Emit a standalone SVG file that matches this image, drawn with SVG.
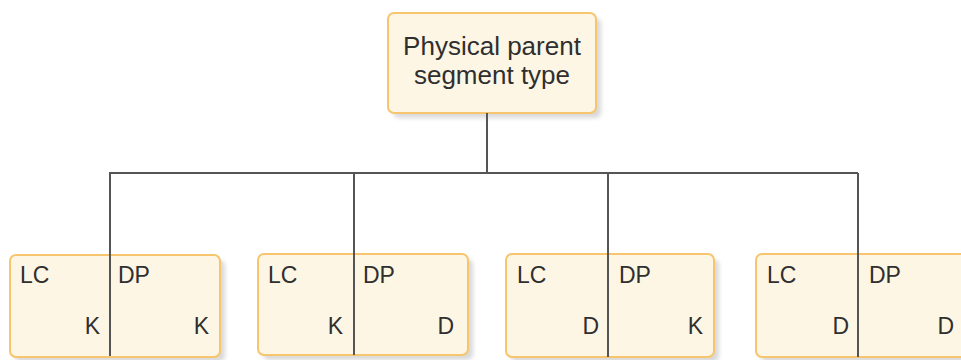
<svg xmlns="http://www.w3.org/2000/svg" width="961" height="360" viewBox="0 0 961 360">
<style>
.box{fill:#fef6e4;stroke:#f6c56e;stroke-width:2}
.sh{fill:#d9d9d9}
.t{font-family:"Liberation Sans",Arial,sans-serif;fill:#2f2f2f}
.big{font-size:26px}
.sm{font-size:23px}
.r{text-anchor:end}
.c{text-anchor:middle}
.ln{stroke:#555;stroke-width:2;fill:none}
</style>
<defs>
<filter id="blur" x="-10%" y="-10%" width="130%" height="130%"><feGaussianBlur stdDeviation="2"/></filter>
</defs>
<g id="parent">
<rect class="sh" x="393" y="18" width="208" height="100" rx="6" filter="url(#blur)"/>
<rect class="box" x="388" y="13" width="208" height="100" rx="6"/>
<text class="t big c" x="492" y="55">Physical parent</text>
<text class="t big c" x="492" y="84">segment type</text>
</g>
<g id="child1">
<rect class="sh" x="15" y="260" width="210" height="102" rx="6" filter="url(#blur)"/>
<rect class="box" x="10" y="255" width="210" height="102" rx="6"/>
<text class="t sm" x="20" y="283">LC</text>
<text class="t sm" x="118" y="283">DP</text>
<text class="t sm r" x="100" y="334">K</text>
<text class="t sm r" x="209" y="334">K</text>
</g>
<g id="child2">
<rect class="sh" x="263" y="259" width="210" height="101" rx="6" filter="url(#blur)"/>
<rect class="box" x="258" y="254" width="210" height="101" rx="6"/>
<text class="t sm" x="268" y="283">LC</text>
<text class="t sm" x="363" y="283">DP</text>
<text class="t sm r" x="343" y="334">K</text>
<text class="t sm r" x="454" y="334">D</text>
</g>
<g id="child3">
<rect class="sh" x="511" y="259" width="208" height="103" rx="6" filter="url(#blur)"/>
<rect class="box" x="506" y="254" width="208" height="103" rx="6"/>
<text class="t sm" x="517" y="283">LC</text>
<text class="t sm" x="619" y="283">DP</text>
<text class="t sm r" x="599" y="334">D</text>
<text class="t sm r" x="703" y="334">K</text>
</g>
<g id="child4">
<rect class="sh" x="761" y="259" width="210" height="103" rx="6" filter="url(#blur)"/>
<rect class="box" x="756" y="254" width="210" height="103" rx="6"/>
<text class="t sm" x="767" y="283">LC</text>
<text class="t sm" x="869" y="283">DP</text>
<text class="t sm r" x="849" y="334">D</text>
<text class="t sm r" x="954" y="334">D</text>
</g>
<g id="connectors">
<path class="ln" d="M487 113 V173"/>
<path class="ln" d="M109 173 H858"/>
<path class="ln" d="M110 173 V356"/>
<path class="ln" d="M354 173 V355"/>
<path class="ln" d="M608 173 V357"/>
<path class="ln" d="M858 173 V357"/>
</g>
</svg>
